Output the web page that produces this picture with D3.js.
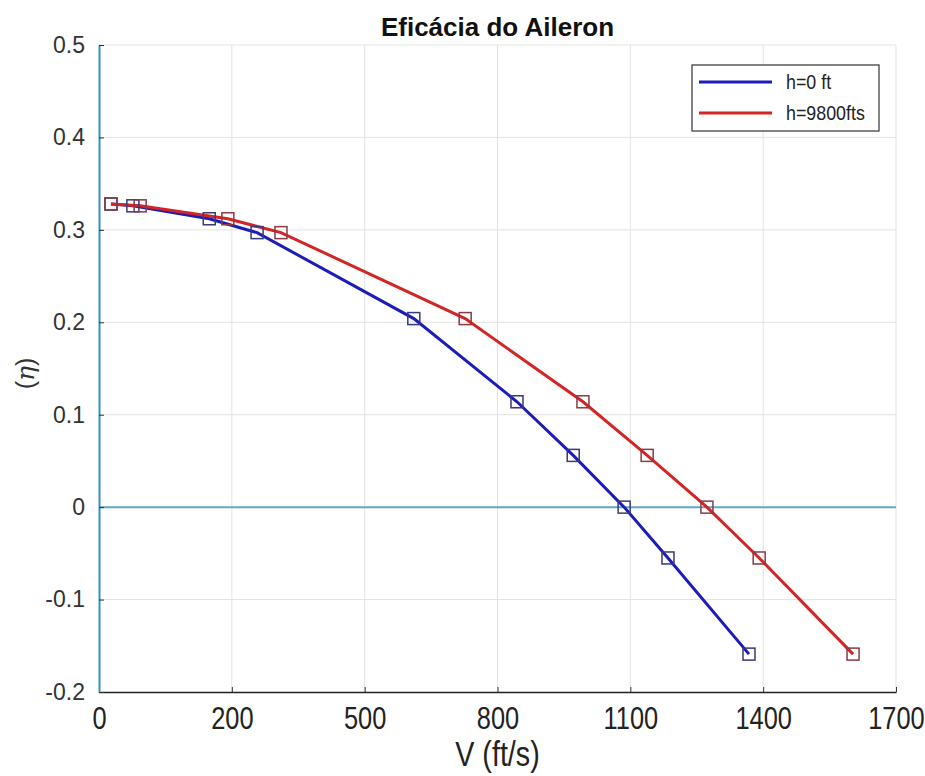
<!DOCTYPE html>
<html>
<head>
<meta charset="utf-8">
<script src="https://cdn.jsdelivr.net/npm/d3@7"></script>
<style>
  body { margin: 0; background: #fff; }
  text { font-family: Arial, 'Liberation Sans', sans-serif; }
</style>
</head>
<body>
<div id="chart"></div>
<script>
// values
const xTicks = [0, 200, 500, 800, 1100, 1400, 1700];
const yTicks = [-0.2, -0.1, 0, 0.1, 0.2, 0.3, 0.4, 0.5];

const vSea = [18, 51, 166, 257, 611, 844, 971, 1086, 1185, 1368];
const etaSea = [0.328, 0.326, 0.312, 0.297, 0.204, 0.114, 0.056, 0.0, -0.055, -0.159];

const vAlt = [18, 62, 194, 311, 727, 993, 1138, 1273, 1391, 1603];
const etaAlt = [0.328, 0.326, 0.312, 0.297, 0.204, 0.114, 0.056, 0.0, -0.055, -0.159];

const seriesNames = ['h=0 ft', 'h=9800fts'];

const W = 925, H = 776;
const margin = { top: 45, right: 29, bottom: 84, left: 99 };
const width = W - margin.left - margin.right;
const height = H - margin.top - margin.bottom;
const narrow = 0.82; // squeeze to look like Arial Narrow

const svg = d3.select('#chart')
  .append('svg')
  .attr('width', W)
  .attr('height', H);

// the tick labels are evenly spaced though not evenly valued, so piecewise scale
const x = d3.scaleLinear()
  .domain(xTicks)
  .range(xTicks.map((d, i) => i * width / (xTicks.length - 1)));
const y = d3.scaleLinear().domain([-0.2, 0.5]).range([height, 0]);

const g = svg.append('g')
  .attr('transform', 'translate(' + margin.left + ',' + margin.top + ')');

// grid
g.selectAll('.gx')
  .data(xTicks.slice(1))
  .enter()
  .append('line')
  .attr('x1', d => x(d)).attr('x2', d => x(d))
  .attr('y1', 0).attr('y2', height)
  .attr('stroke', '#e3e3e3').attr('stroke-width', 1);
g.selectAll('.gy')
  .data(yTicks.slice(1))
  .enter()
  .append('line')
  .attr('x1', 0).attr('x2', width)
  .attr('y1', d => y(d)).attr('y2', d => y(d))
  .attr('stroke', '#e3e3e3').attr('stroke-width', 1);

// zero reference line
g.append('line')
  .attr('x1', 0).attr('x2', width)
  .attr('y1', y(0)).attr('y2', y(0))
  .attr('stroke', '#5fa8cc').attr('stroke-width', 2);

// x axis
const xAxis = g.append('g')
  .attr('transform', 'translate(0,' + height + ')')
  .call(d3.axisBottom(x).tickValues(xTicks).tickFormat(d3.format('d'))
    .tickSizeInner(-5).tickSizeOuter(0).tickPadding(15));
xAxis.select('.domain').attr('stroke', '#222').attr('stroke-width', 1.5);
xAxis.selectAll('.tick line').attr('stroke', '#333');
xAxis.selectAll('.tick text')
  .attr('transform', 'scale(' + narrow + ',1)')
  .style('font-size', '31px')
  .attr('fill', '#222');

// y axis, plain hyphen for negatives like the original
const yFmt = d => (d === 0 ? '0' : d.toFixed(1));
const yAxis = g.append('g')
  .call(d3.axisLeft(y).tickValues(yTicks).tickFormat(yFmt)
    .tickSizeInner(-5).tickSizeOuter(0).tickPadding(14));
yAxis.select('.domain').attr('stroke', '#3d8fbf').attr('stroke-width', 2);
yAxis.selectAll('.tick line').attr('stroke', '#333');
yAxis.selectAll('.tick text')
  .style('font-size', '23px')
  .attr('fill', '#333');

// lines and markers
const series = [
  { v: vSea, eta: etaSea, color: '#1c1cb8', edge: '#38387a' },
  { v: vAlt, eta: etaAlt, color: '#d42525', edge: '#8a3a44' }
];

const line = d3.line()
  .x(d => x(d[0]))
  .y(d => y(d[1]));

series.forEach(s => {
  const pts = s.v.map((v, i) => [v, s.eta[i]]);
  g.append('path')
    .datum(pts)
    .attr('fill', 'none')
    .attr('stroke', s.color)
    .attr('stroke-width', 3)
    .attr('d', line);
});

series.forEach(s => {
  const pts = s.v.map((v, i) => [v, s.eta[i]]);
  g.selectAll(null)
    .data(pts)
    .enter()
    .append('rect')
    .attr('x', d => x(d[0]) - 6)
    .attr('y', d => y(d[1]) - 6)
    .attr('width', 12)
    .attr('height', 12)
    .attr('fill', 'none')
    .attr('stroke', s.edge)
    .attr('stroke-width', 1.5);
});

// legend
const leg = svg.append('g').attr('transform', 'translate(692,65)');
leg.append('rect')
  .attr('width', 187).attr('height', 66)
  .attr('fill', '#fff').attr('stroke', '#333').attr('stroke-width', 1.2);
seriesNames.forEach((name, i) => {
  const ly = 17 + i * 31;
  leg.append('line')
    .attr('x1', 7).attr('x2', 80)
    .attr('y1', ly).attr('y2', ly)
    .attr('stroke', series[i].color).attr('stroke-width', 3);
  leg.append('text')
    .attr('transform', 'translate(94,' + (ly + 7) + ') scale(0.85,1)')
    .style('font-size', '21px')
    .attr('fill', '#222')
    .text(name);
});

// title and labels
svg.append('text')
  .attr('x', margin.left + width / 2)
  .attr('y', 36)
  .attr('text-anchor', 'middle')
  .style('font-weight', 'bold')
  .style('font-size', '26px')
  .attr('fill', '#111')
  .text('Eficácia do Aileron');

svg.append('text')
  .attr('transform', 'translate(' + (margin.left + width / 2) + ',766) scale(' + narrow + ',1)')
  .attr('text-anchor', 'middle')
  .style('font-size', '35px')
  .attr('fill', '#222')
  .text('V (ft/s)');

const yl = svg.append('text')
  .attr('transform', 'translate(34,' + (margin.top + height / 2 + 5) + ') rotate(-90)')
  .attr('text-anchor', 'middle')
  .style('font-size', '25px')
  .attr('fill', '#333');
yl.append('tspan').text('(');
yl.append('tspan').style('font-style', 'italic').style('font-family', 'DejaVu Serif, serif').text('η');
yl.append('tspan').text(')');
</script>
</body>
</html>
